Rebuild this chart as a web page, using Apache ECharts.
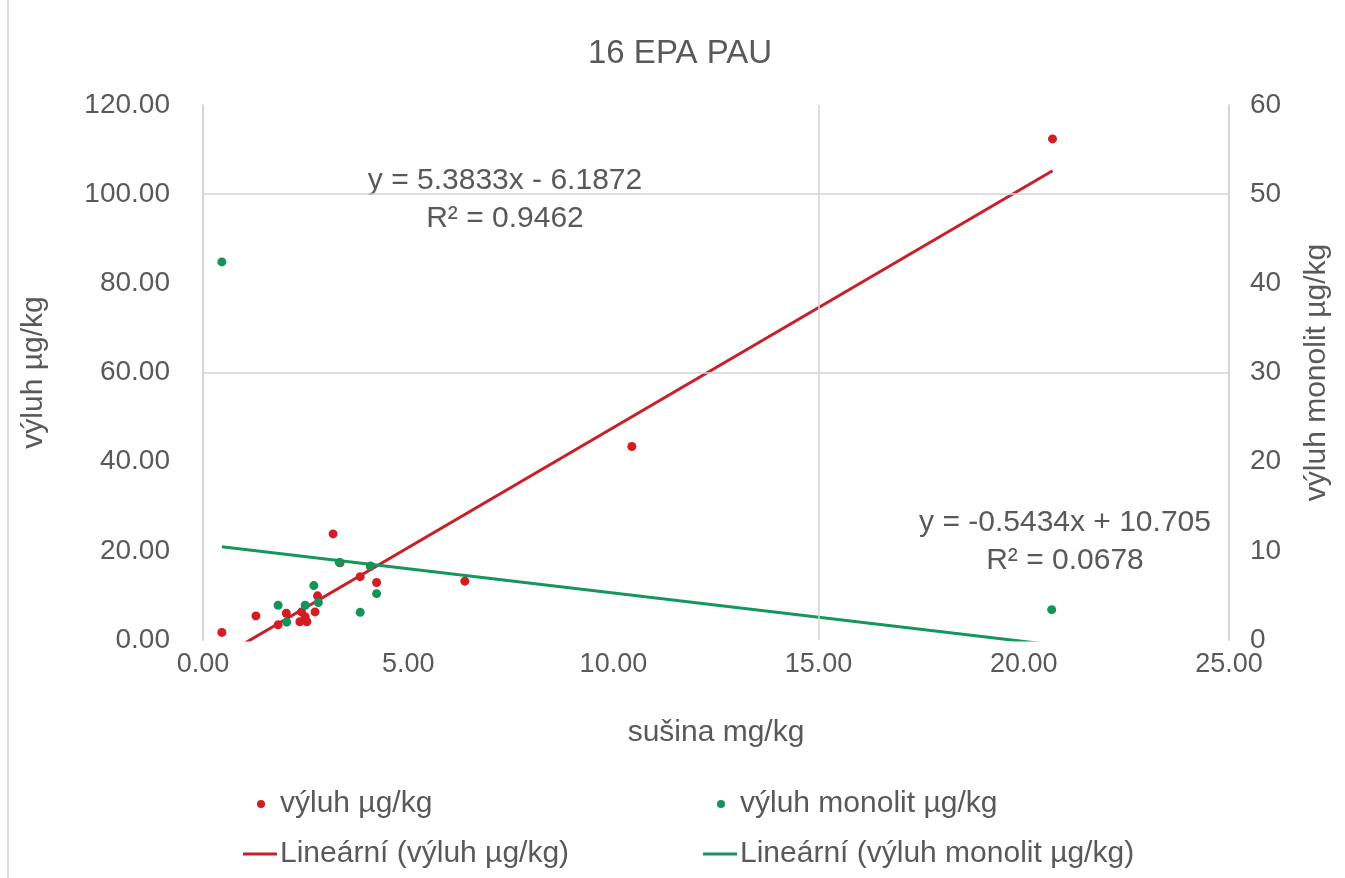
<!DOCTYPE html>
<html>
<head>
<meta charset="utf-8">
<title>16 EPA PAU</title>
<script src="https://cdn.jsdelivr.net/npm/echarts@6/dist/echarts.min.js"></script>
<style>
  html, body { margin: 0; padding: 0; background: #fff; }
  #chart { width: 1345px; height: 878px; }
</style>
</head>
<body>
<div id="chart"></div>
<script>
  // sušina mg/kg vs výluh µg/kg (levá osa)
  const susinaVyluh = [0.46, 1.29, 1.83, 2.03, 2.36, 2.40, 2.49, 2.53, 2.73, 2.79, 3.17, 3.34, 3.83, 4.08, 4.23, 6.38, 10.45, 20.70];
  const vyluh       = [1.7, 5.4, 3.4, 6.0, 4.1, 6.3, 5.2, 4.1, 6.3, 9.9, 23.8, 17.3, 14.2, 16.5, 12.9, 13.2, 43.4, 112.4];
  // sušina mg/kg vs výluh monolit µg/kg (pravá osa)
  const susinaMonolit = [0.46, 1.83, 2.04, 2.49, 2.70, 2.81, 3.32, 3.83, 4.08, 4.23, 20.68];
  const monolit       = [42.4, 3.9, 2.0, 3.9, 6.1, 4.2, 8.7, 3.1, 8.3, 5.2, 3.4];
  // trendy z Excelu
  const trendVyluh = { a: 5.3833, b: -6.1872 };
  const trendMonolit = { a: -0.5434, b: 10.705 };
  const xTicks = [0, 5, 10, 15, 20, 25];
  const gridY = [100, 60];
  const gridX = [15];

  const FONT = 'Liberation Sans';
  const TXT = '#595959';

  function pairs(xs, ys) {
    return xs.map((x, i) => [x, ys[i]]);
  }
  function trend(xs, t) {
    let lo = Math.min.apply(null, xs), hi = Math.max.apply(null, xs);
    return [[lo, t.a * lo + t.b], [hi, t.a * hi + t.b]];
  }

  let myChart = echarts.init(document.getElementById('chart'));
  myChart.setOption({
    animation: false,
    backgroundColor: '#fff',
    title: {
      text: '16 EPA PAU',
      left: 583,
      top: 32,
      textStyle: { color: TXT, fontFamily: FONT, fontWeight: 'normal', fontSize: 33 }
    },
    grid: { left: 203, right: 116, top: 105, bottom: 238, outerBoundsMode: 'none', containLabel: false },
    legend: [
      { data: ['výluh µg/kg'], left: 252, top: 784, icon: 'circle', itemWidth: 8, itemHeight: 8,
        textStyle: { color: TXT, fontFamily: FONT, fontSize: 30, padding: [0, 0, 0, 10] } },
      { data: ['výluh monolit µg/kg'], left: 712, top: 784, icon: 'circle', itemWidth: 8, itemHeight: 8,
        textStyle: { color: TXT, fontFamily: FONT, fontSize: 30, padding: [0, 0, 0, 10] } },
      { data: ['Lineární (výluh µg/kg)'], left: 238, top: 834, icon: 'rect', itemWidth: 34, itemHeight: 3,
        textStyle: { color: TXT, fontFamily: FONT, fontSize: 30, padding: [0, 0, 0, -2] } },
      { data: ['Lineární (výluh monolit µg/kg)'], left: 698, top: 834, icon: 'rect', itemWidth: 34, itemHeight: 3,
        textStyle: { color: TXT, fontFamily: FONT, fontSize: 30, padding: [0, 0, 0, -2] } }
    ],
    xAxis: {
      type: 'value',
      min: xTicks[0],
      max: xTicks[xTicks.length - 1],
      interval: 5,
      name: 'sušina mg/kg',
      nameLocation: 'middle',
      nameGap: 78,
      nameTextStyle: { color: TXT, fontFamily: FONT, fontSize: 30 },
      axisLine: { show: false },
      axisTick: { show: false },
      splitLine: { show: false },
      axisLabel: { color: TXT, fontFamily: FONT, fontSize: 27, margin: 11, formatter: v => v.toFixed(2) }
    },
    yAxis: [
      {
        type: 'value',
        min: 0, max: 120, interval: 20,
        name: 'výluh µg/kg',
        nameLocation: 'middle',
        nameRotate: 90,
        nameGap: 154,
        nameTextStyle: { color: TXT, fontFamily: FONT, fontSize: 30 },
        axisLine: { show: true, lineStyle: { color: '#c8c8c8', width: 1.5 } },
        axisTick: { show: false },
        splitLine: { show: false },
        axisLabel: { color: TXT, fontFamily: FONT, fontSize: 28, margin: 33, formatter: v => v.toFixed(2) }
      },
      {
        type: 'value',
        min: 0, max: 60, interval: 10,
        position: 'right',
        name: 'výluh monolit µg/kg',
        nameLocation: 'middle',
        nameRotate: 90,
        nameGap: 73,
        nameTextStyle: { color: TXT, fontFamily: FONT, fontSize: 30 },
        axisLine: { show: true, lineStyle: { color: '#c8c8c8', width: 1.5 } },
        axisTick: { show: false },
        splitLine: { show: false },
        axisLabel: { color: TXT, fontFamily: FONT, fontSize: 28, margin: 21 }
      }
    ],
    graphic: [
      { type: 'line', shape: { x1: 8, y1: 0, x2: 8, y2: 878 }, style: { stroke: '#d0d0d0', lineWidth: 1.5 } },
      { type: 'text', x: 505, y: 162, style: {
          text: 'y = 5.3833x - 6.1872\nR² = 0.9462', align: 'center', verticalAlign: 'top',
          fill: TXT, font: '30px "Liberation Sans"', lineHeight: 38 } },
      { type: 'text', x: 1065, y: 504, style: {
          text: 'y = -0.5434x + 10.705\nR² = 0.0678', align: 'center', verticalAlign: 'top',
          fill: TXT, font: '30px "Liberation Sans"', lineHeight: 38 } }
    ],
    series: [
      {
        name: 'výluh µg/kg',
        type: 'scatter',
        yAxisIndex: 0,
        symbolSize: 9,
        itemStyle: { color: '#d41c22', opacity: 1 },
        data: pairs(susinaVyluh, vyluh),
        z: 4,
        markLine: {
          silent: true,
          symbol: 'none',
          label: { show: false },
          lineStyle: { color: '#d4d4d4', width: 1.5, type: 'solid' },
          data: gridY.map(v => ({ yAxis: v })).concat(gridX.map(v => ({ xAxis: v })))
        }
      },
      {
        name: 'výluh monolit µg/kg',
        type: 'scatter',
        yAxisIndex: 1,
        symbolSize: 9,
        itemStyle: { color: '#14935a', opacity: 1 },
        data: pairs(susinaMonolit, monolit),
        z: 4
      },
      {
        name: 'Lineární (výluh µg/kg)',
        type: 'line',
        yAxisIndex: 0,
        showSymbol: false,
        symbol: 'none',
        clip: true,
        lineStyle: { color: '#c8202a', width: 3 },
        itemStyle: { color: '#c8202a' },
        data: trend(susinaVyluh, trendVyluh),
        z: 3
      },
      {
        name: 'Lineární (výluh monolit µg/kg)',
        type: 'line',
        yAxisIndex: 1,
        showSymbol: false,
        symbol: 'none',
        clip: true,
        lineStyle: { color: '#14985a', width: 3 },
        itemStyle: { color: '#14985a' },
        data: trend(susinaMonolit, trendMonolit),
        z: 3
      }
    ]
  });
</script>
</body>
</html>
